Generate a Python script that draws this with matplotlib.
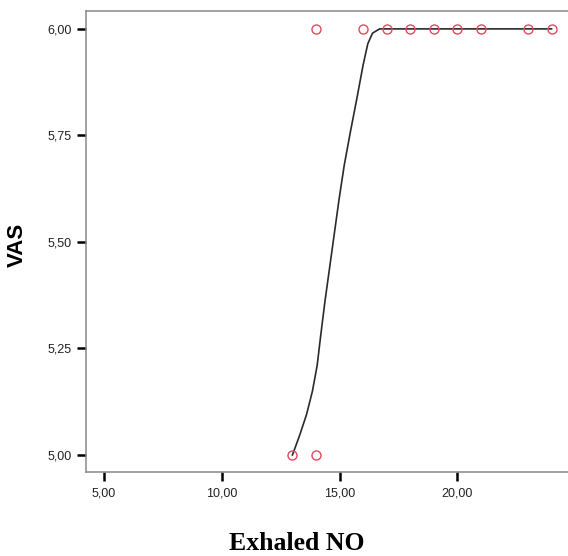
import matplotlib
matplotlib.use("Agg")
import matplotlib.pyplot as plt
from matplotlib.ticker import FuncFormatter

# Observed data points
exhaled_no = [13, 14, 14, 16, 17, 18, 19, 20, 21, 23, 24]
vas = [5, 5, 6, 6, 6, 6, 6, 6, 6, 6, 6]

# Fit line
fit_x = [13.0, 13.3, 13.6, 13.85, 14.05, 14.2, 14.38, 14.58, 14.78, 14.98,
         15.2, 15.45, 15.73, 16.0, 16.2, 16.4, 16.7, 24.0]
fit_y = [5.0, 5.045, 5.095, 5.15, 5.21, 5.28, 5.36, 5.44, 5.52, 5.60,
         5.68, 5.755, 5.835, 5.915, 5.965, 5.99, 6.0, 6.0]

x_ticks = [5, 10, 15, 20]
y_ticks = [5.00, 5.25, 5.50, 5.75, 6.00]

fig = plt.figure(figsize=(5.68, 5.56), dpi=100)
ax = fig.add_axes([86/568, 84/556, 1 - 86/568, (472 - 11)/556])

ax.plot(fit_x, fit_y, color="#2a2a2a", lw=1.2, zorder=2, solid_joinstyle="round")
ax.plot(exhaled_no, vas, linestyle="none", marker="o", markersize=6.5,
        markerfacecolor="none", markeredgecolor="#e5485e", markeredgewidth=1.0, zorder=3)

ax.set_xlim(4.236, 24.70)
ax.set_ylim(4.960, 6.042)
ax.set_xticks(x_ticks)
ax.set_yticks(y_ticks)
fmt = FuncFormatter(lambda v, p: f"{v:.2f}".replace(".", ","))
ax.xaxis.set_major_formatter(fmt)
ax.yaxis.set_major_formatter(fmt)

for s in ["left", "bottom", "top"]:
    ax.spines[s].set_color("#888888")
    ax.spines[s].set_linewidth(1.1)
ax.spines["right"].set_visible(False)

ax.tick_params(axis="both", direction="out", length=6.5, width=1.8, color="black",
               labelsize=9, labelcolor="#222222")
ax.tick_params(axis="x", pad=4.5)
ax.tick_params(axis="y", pad=3.5)
for lab in ax.get_xticklabels() + ax.get_yticklabels():
    lab.set_family(["Liberation Sans", "DejaVu Sans"])

fig.text(17/568, 1 - 245/556, "VAS", rotation=90, ha="center", va="center",
         fontsize=16, fontweight="bold", family=["Liberation Sans", "DejaVu Sans"])
fig.text(297/568, 1 - 543/556, "Exhaled NO", ha="center", va="center",
         fontsize=18.5, fontweight="bold", family=["Liberation Serif", "DejaVu Serif"])

fig.savefig("out.png", dpi=100)
